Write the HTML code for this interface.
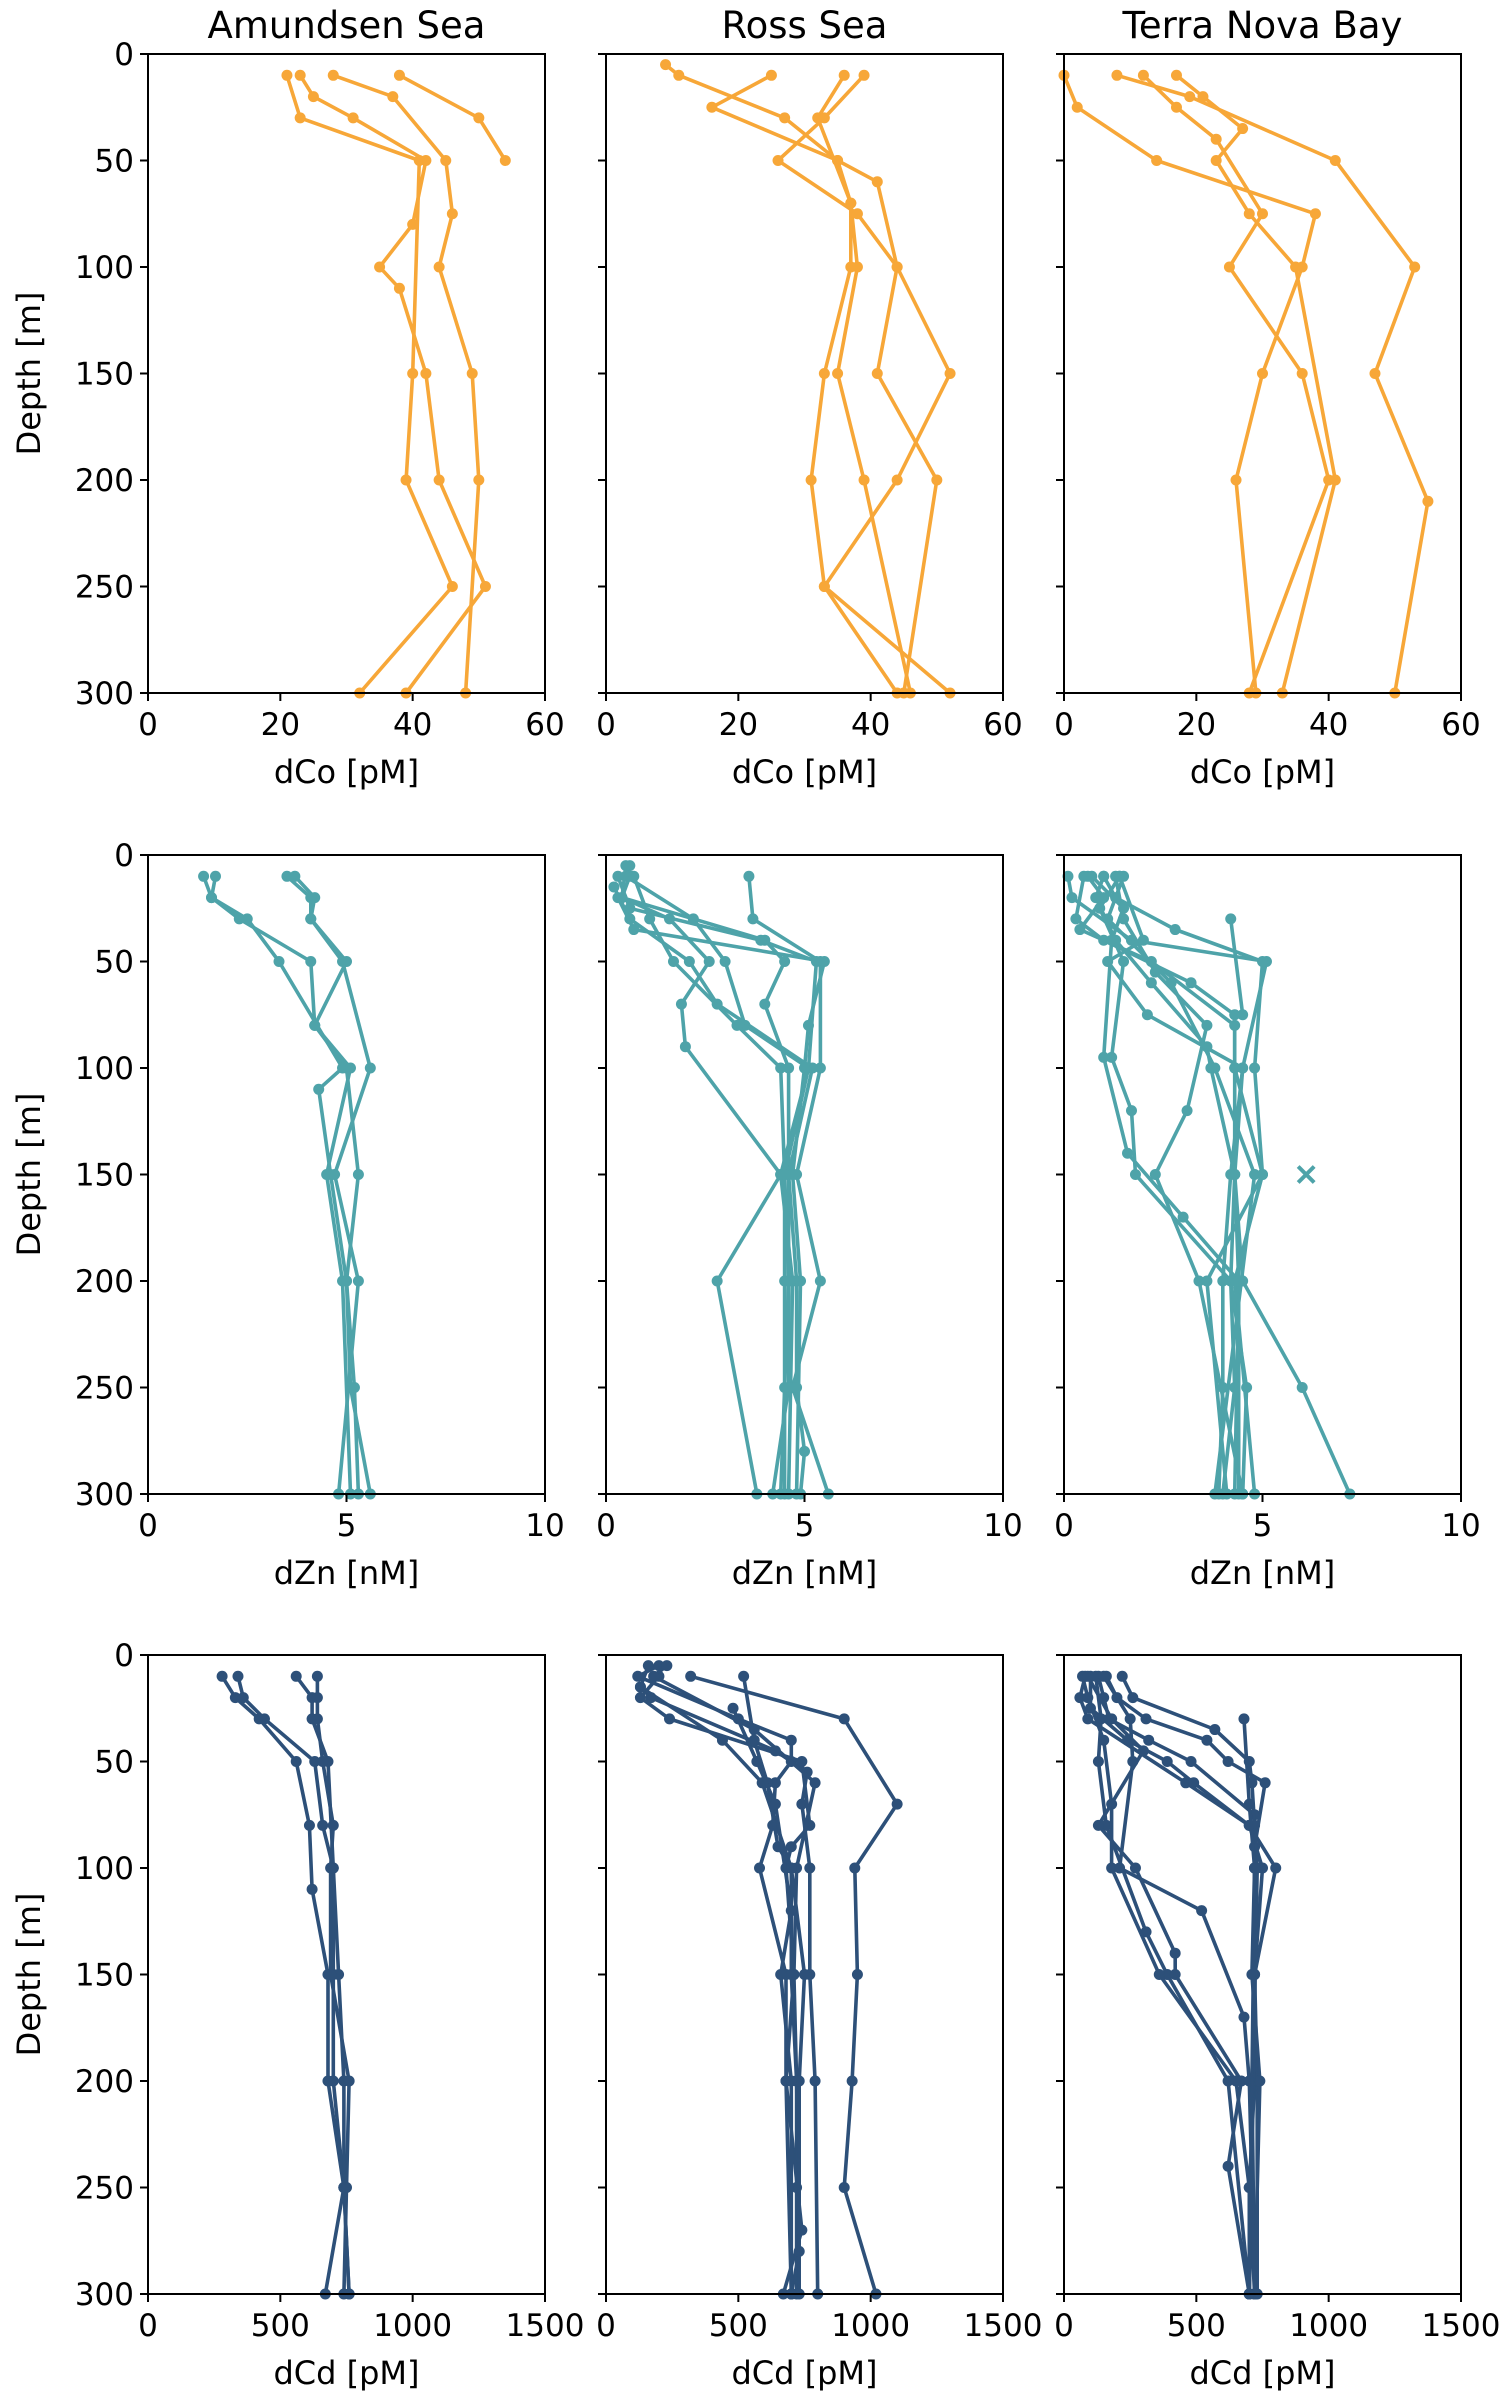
<!DOCTYPE html>
<html><head><meta charset="utf-8">
<style>
body{margin:0;background:#fff;}
svg{display:block;font-family:"DejaVu Sans","Liberation Sans",sans-serif;}
</style></head>
<body>
<svg id="fig" width="1509" height="2399" viewBox="0 0 1509 2399" xmlns="http://www.w3.org/2000/svg"></svg>
<script>
const regions = ["Amundsen Sea","Ross Sea","Terra Nova Bay"];
const metals = ["dCo [pM]","dZn [nM]","dCd [pM]"];
const xMax = [60,10,1500];
const xTicks = [[0,20,40,60],[0,5,10],[0,500,1000,1500]];
const yTicks = [0,50,100,150,200,250,300];
const colors = ["#f7a738","#4ea3a9","#2d5079"];
// each series: [depth, value] pairs
const coAmundsen = [
 [[10,38],[30,50],[50,54]],
 [[10,28],[20,37],[50,45],[75,46],[100,44],[150,49],[200,50],[300,48]],
 [[10,23],[20,25],[30,31],[50,42],[80,40],[100,35],[110,38],[150,42],[200,44],[250,51],[300,39]],
 [[10,21],[30,23],[50,41],[150,40],[200,39],[250,46],[300,32]]
];
const coRoss = [
 [[5,9],[10,11],[30,27],[50,35],[60,41],[100,44],[150,52],[200,44],[250,33],[300,52]],
 [[10,25],[25,16],[50,35],[70,37],[100,38],[150,35],[200,39],[300,46]],
 [[10,36],[30,32],[70,37],[100,37],[150,33],[200,31],[250,33],[300,44]],
 [[10,39],[30,33],[50,26],[75,38],[100,44],[150,41],[200,50],[300,45]]
];
const coTerra = [
 [[10,8],[20,19],[50,41],[100,53],[150,47],[210,55],[300,50]],
 [[10,0],[25,2],[50,14],[75,38],[100,36],[150,30],[200,26],[300,29]],
 [[10,12],[25,17],[40,23],[75,30],[100,25],[150,36],[200,40],[300,28]],
 [[10,17],[20,21],[35,27],[50,23],[75,28],[100,35],[200,41],[300,33]]
];
const znAmundsen = [
 [[10,1.4],[20,1.6],[30,2.3],[50,4.1],[80,4.2],[100,5.0],[150,5.3],[200,5.0],[250,5.2],[300,5.3]],
 [[10,1.7],[20,1.6],[30,2.5],[50,3.3],[100,4.9],[110,4.3],[150,4.6],[200,5.0],[250,5.1],[300,5.6]],
 [[10,3.5],[20,4.1],[30,4.1],[50,4.9],[100,5.6],[150,4.7],[200,5.3],[300,4.8]],
 [[10,3.7],[20,4.2],[30,4.1],[50,5.0],[80,4.2],[100,5.1],[150,4.5],[200,4.9],[300,5.1]]
];
const znRoss = [
 [[10,3.6],[30,3.7],[50,5.4],[100,5.4],[150,4.8],[200,5.4],[250,4.7],[300,5.6]],
 [[5,0.6],[10,0.5],[30,2.2],[50,3.0],[80,3.5],[100,5.1],[150,4.4],[200,4.7],[300,4.6]],
 [[5,0.5],[20,0.4],[40,4.0],[50,4.5],[70,4.0],[100,4.6],[150,4.6],[200,4.6],[250,4.6],[300,4.2]],
 [[10,0.6],[20,0.4],[30,1.6],[50,2.6],[70,1.9],[90,2.0],[150,4.4],[200,2.8],[300,3.8]],
 [[10,0.3],[25,0.6],[40,3.9],[50,5.3],[100,5.1],[150,4.5],[200,4.5],[250,4.5],[300,4.5]],
 [[15,0.2],[30,0.6],[50,2.1],[70,2.8],[100,5.2],[150,4.6],[200,4.8],[250,4.8],[280,5.0],[300,4.9]],
 [[20,0.3],[35,0.7],[50,5.5],[80,5.1],[100,5.0],[150,4.7],[200,4.9],[300,4.8]],
 [[10,0.7],[30,1.1],[50,1.7],[80,3.3],[100,4.4],[150,4.5],[200,4.6],[300,4.4]]
];
const znTerra = [
 [[10,0.1],[20,0.2],[40,1.7],[50,5.1],[100,4.5],[150,4.3],[200,4.2],[250,4.3],[300,4.0]],
 [[10,0.5],[30,0.3],[40,1.0],[60,3.2],[75,4.3],[100,4.3],[150,4.3],[200,4.4],[300,4.4]],
 [[10,0.6],[20,1.0],[35,0.4],[50,2.2],[80,4.3],[100,4.3],[150,5.0],[200,4.3],[300,4.8]],
 [[10,1.0],[20,0.8],[40,1.3],[60,2.2],[90,3.6],[100,3.7],[150,4.3],[200,4.5],[250,6.0],[300,7.2]],
 [[10,1.3],[30,1.5],[55,2.3],[80,3.6],[120,3.1],[150,2.3],[200,3.4],[300,4.5]],
 [[10,1.4],[25,0.9],[50,1.5],[95,1.2],[120,1.7],[150,1.8],[200,4.2],[250,4.6],[300,4.5]],
 [[10,0.7],[25,1.5],[40,1.2],[95,1.0],[140,1.6],[170,3.0],[200,4.4],[300,4.3]],
 [[10,1.5],[30,1.1],[60,2.7],[100,3.8],[150,4.8],[300,3.8]],
 [[10,1.4],[40,2.0],[50,1.1],[75,2.1],[100,4.5],[150,4.2],[200,4.0],[250,4.0],[300,3.9]],
 [[10,1.0],[20,1.3],[35,2.8],[50,5.0],[100,4.8],[150,5.0],[200,3.6],[300,4.1]],
 [[30,4.2],[75,4.5]]
];
const znOutlier = [[150,6.1]];
const cdAmundsen = [
 [[10,280],[20,330],[30,420],[50,560],[80,610],[110,620],[150,680],[200,680],[250,740],[300,670]],
 [[10,340],[20,360],[30,440],[50,630],[80,660],[100,700],[150,700],[200,700],[250,740],[300,760]],
 [[10,560],[20,620],[30,620],[50,680],[100,700],[150,720],[200,740],[250,740],[300,760]],
 [[10,640],[20,640],[30,640],[50,660],[80,700],[100,690],[150,690],[200,760],[250,750],[300,740]]
];
const cdRoss = [
 [[10,320],[30,900],[70,1100],[100,940],[150,950],[200,930],[250,900],[300,1020]],
 [[5,200],[10,120],[30,500],[40,700],[50,700],[60,640],[80,630],[100,580],[150,680],[200,680],[270,740],[300,670]],
 [[5,160],[15,130],[20,170],[45,640],[55,760],[70,740],[100,770],[150,770],[200,790],[300,800]],
 [[10,200],[20,130],[30,240],[50,740],[80,770],[90,700],[100,680],[150,710],[200,720],[250,720],[300,720]],
 [[5,230],[10,180],[35,560],[60,790],[100,720],[150,710],[200,680],[300,700]],
 [[15,130],[40,440],[60,590],[100,700],[150,700],[200,720],[280,730],[300,700]],
 [[10,520],[40,560],[60,610],[90,650],[100,700],[150,750],[200,730],[300,730]],
 [[25,480],[50,570],[70,640],[120,700],[150,660],[200,700],[300,700]]
];
const cdTerra = [
 [[10,80],[20,60],[30,90],[60,460],[80,700],[100,750],[150,720],[200,720],[250,700],[300,700]],
 [[10,130],[20,150],[30,170],[40,320],[50,480],[75,720],[100,720],[150,720],[200,730],[300,730]],
 [[10,100],[25,100],[40,240],[50,390],[60,490],[80,700],[100,800],[150,720],[200,710],[300,720]],
 [[10,160],[20,200],[30,310],[40,540],[50,620],[60,760],[90,720],[100,720],[150,710],[200,740],[300,720]],
 [[10,220],[20,260],[35,570],[50,700],[60,710],[80,720],[100,730],[300,700]],
 [[10,120],[30,140],[50,130],[80,160],[130,310],[150,390],[200,620],[300,700]],
 [[10,70],[20,90],[40,150],[70,180],[100,180],[150,360],[200,650],[250,700],[300,720]],
 [[10,90],[30,180],[45,300],[80,130],[100,270],[140,420],[150,420],[200,670],[240,620],[300,700]],
 [[10,150],[30,250],[50,260],[100,210],[120,520],[170,680],[200,700],[300,720]],
 [[30,680],[70,700],[100,720],[300,700]]
];
const panels = [[coAmundsen,coRoss,coTerra],[znAmundsen,znRoss,znTerra],[cdAmundsen,cdRoss,cdTerra]];

const NS="http://www.w3.org/2000/svg";
const svg=document.getElementById('fig');
const lefts=[148,606,1064], tops=[54,855,1655], W=397, H=639;
function mk(tag,attrs,parent){const e=document.createElementNS(NS,tag);for(const k in attrs)e.setAttribute(k,attrs[k]);(parent||svg).appendChild(e);return e;}
function slug(s){return s.toLowerCase().replace(/[^a-z0-9]+/g,'-').replace(/^-|-$/g,'');}

for(let r=0;r<3;r++){
 for(let c=0;c<3;c++){
  const L=lefts[c],T=tops[r];
  const xs=v=>L+v/xMax[r]*W;
  const ys=d=>T+d/300*H;
  const g=mk('g',{});
  
  
  // series
  panels[r][c].forEach((s,i)=>{
   const pts=s.map(p=>xs(p[1]).toFixed(1)+','+ys(p[0]).toFixed(1)).join(' ');
   const pl=mk('polyline',{points:pts,fill:'none',stroke:colors[r],'stroke-width':3.6,'stroke-linejoin':'round'},g);
   
   
   s.forEach(p=>{
    const m=mk('circle',{cx:xs(p[1]),cy:ys(p[0]),r:5.5,fill:colors[r]},g);
    
    
   });
  });
  if(r===1&&c===2){
   znOutlier.forEach(p=>{
    const x=xs(p[1]),y=ys(p[0]),k=8;
    const xm=mk('path',{d:`M${x-k},${y-k}L${x+k},${y+k}M${x-k},${y+k}L${x+k},${y-k}`,stroke:colors[r],'stroke-width':4,fill:'none'},g);
    
    
   });
  }
  // frame
  const fr=mk('rect',{x:L,y:T,width:W,height:H,fill:'none',stroke:'#000','stroke-width':2},g);
  
  
  // x ticks
  xTicks[r].forEach(t=>{
   const x=xs(t);
   mk('line',{x1:x,y1:T+H,x2:x,y2:T+H+8,stroke:'#000','stroke-width':2},g);
   const tx=mk('text',{x:x,y:T+H+42,'font-size':31,'text-anchor':'middle',fill:'#000'},g);
   tx.textContent=t;
   
   
  });
  yTicks.forEach(t=>{
   const y=ys(t);
   mk('line',{x1:L-8,y1:y,x2:L,y2:y,stroke:'#000','stroke-width':2},g);
   if(c===0){
    const ty=mk('text',{x:L-14,y:y+11,'font-size':31,'text-anchor':'end',fill:'#000'},g);
    ty.textContent=t;
    
    
   }
  });
  const xl=mk('text',{x:L+W/2,y:T+H+90,'font-size':32,'text-anchor':'middle',fill:'#000'},g);
  xl.textContent=metals[r];
  
  
  if(c===0){
   const yl=mk('text',{x:0,y:0,'font-size':32,'text-anchor':'middle',fill:'#000',transform:`translate(40,${T+H/2}) rotate(-90)`},g);
   yl.textContent='Depth [m]';
   
   
  }
  if(r===0){
   const tt=mk('text',{x:L+W/2,y:38,'font-size':37,'text-anchor':'middle',fill:'#000'},g);
   tt.textContent=regions[c];
   
   
  }
 }
}
</script>
</body></html>
